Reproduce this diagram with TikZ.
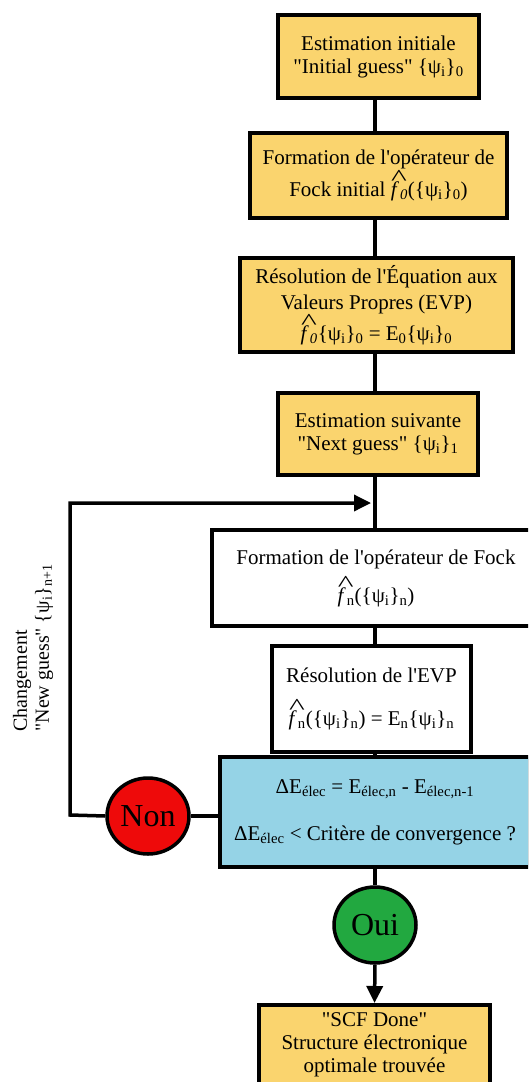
\documentclass[tikz,border=0pt]{standalone}
\usepackage{fontspec}
\setmainfont{Liberation Serif}[Ligatures=TeXOff]
\usetikzlibrary{arrows.meta,shapes.geometric}
\definecolor{boxyellow}{HTML}{FAD46E}
\definecolor{boxblue}{HTML}{95D3E6}
\definecolor{nonred}{HTML}{EE0A0A}
\definecolor{ouigreen}{HTML}{22A840}
\newcommand\lowsub[1]{\textsubscript{#1}}
\newcommand\fhat{\leavevmode\rlap{\raisebox{0.52em}{\kern0.02em\scalebox{1.6}[1.1]{\textasciicircum}}}\textit{f}\kern0.05em}
\begin{document}
\begin{tikzpicture}[x=1pt,y=-1pt,
  stepbox/.style={draw=black,line width=3.5pt,align=center,inner sep=2pt,
     font=\fontsize{21}{23}\selectfont},
  yel/.style={stepbox,fill=boxyellow},
  wht/.style={stepbox,fill=white},
  blu/.style={stepbox,fill=boxblue},
  decision/.style={ellipse,draw=black,line width=3.5pt,inner sep=0pt,
     minimum width=82pt,minimum height=76pt,font=\fontsize{32}{34}\selectfont},
  conn/.style={line width=3.5pt},
  tip/.style={-{Triangle[length=17pt,width=16pt]}}]
\useasboundingbox (0,0) rectangle (528,1082);
\clip (0,0) rectangle (528,1082);
\fill[white] (0,0) rectangle (528,1082);

\node[yel,minimum width=201pt,minimum height=83pt] (b1) at (378.5,56.5)
  {Estimation initiale\\ "Initial guess" \{ψ\lowsub{i}\}\lowsub{0}};
\node[yel,minimum width=257pt,minimum height=85pt,font=\fontsize{21}{29}\selectfont] (b2) at (378.5,175.5)
  {Formation de l'opérateur de\\ Fock initial \fhat\lowsub{\textit{0}}(\{ψ\lowsub{i}\}\lowsub{0})};
\node[yel,minimum width=273pt,minimum height=94pt,font=\fontsize{21}{26}\selectfont] (b3) at (376.5,305)
  {Résolution de l'Équation aux\\ Valeurs Propres (EVP)\\ \fhat\lowsub{\textit{0}}\{ψ\lowsub{i}\}\lowsub{0} = E\lowsub{0}\{ψ\lowsub{i}\}\lowsub{0}};
\node[yel,minimum width=200pt,minimum height=82pt] (b4) at (378,434)
  {Estimation suivante\\ "Next guess" \{ψ\lowsub{i}\}\lowsub{1}};
\node[wht,minimum width=328pt,minimum height=96pt,font=\fontsize{21}{38}\selectfont] (b5) at (376,578)
  {Formation de l'opérateur de Fock\\ \fhat\lowsub{n}(\{ψ\lowsub{i}\}\lowsub{n})};
\node[wht,minimum width=199pt,minimum height=106pt,font=\fontsize{21}{43}\selectfont] (b6) at (371.5,699)
  {Résolution de l'EVP\\ \fhat\lowsub{n}(\{ψ\lowsub{i}\}\lowsub{n}) = E\lowsub{n}\{ψ\lowsub{i}\}\lowsub{n}};
\node[blu,minimum width=310pt,minimum height=110pt,font=\fontsize{21}{47}\selectfont] (b7) at (375,812)
  {ΔE\lowsub{élec} = E\lowsub{élec,n} - E\lowsub{élec,n-1}\\ ΔE\lowsub{élec} < Critère de convergence ?};
\node[decision,fill=nonred] (non) at (148,816) {Non};
\node[decision,fill=ouigreen] (oui) at (375,925) {Oui};
\node[yel,minimum width=231pt,anchor=north,inner ysep=8pt,text depth=40pt] (b8) at (374.5,1003)
  {"SCF Done"\\ Structure électronique\\ optimale trouvée};

\node[rotate=90,align=left,font=\fontsize{20}{22}\selectfont] (lab) at (33,648)
  {Changement\\ "New guess" \{ψ\lowsub{i}\}\lowsub{n+1}};

\coordinate (ax) at (375,0);
\coordinate (c1) at (70,815);
\coordinate (c2) at (70,503);
\coordinate (c3) at (371,503);

\draw[conn] (b1.south -| ax) -- (b2.north -| ax);
\draw[conn] (b2.south -| ax) -- (b3.north -| ax);
\draw[conn] (b3.south -| ax) -- (b4.north -| ax);
\draw[conn] (b4.south -| ax) -- (b5.north -| ax);
\draw[conn] (b5.south -| ax) -- (b6.north -| ax);
\draw[conn] (b6.south -| ax) -- (b7.north -| ax);
\draw[conn] (b7.south -| ax) -- (oui.north);
\draw[conn,tip] (oui.south) -- (b8.north);
\draw[conn] (b7.west |- non) -- (non.east);
\draw[conn,tip] (non.west) -- (c1) -- (c2) -- (c3);
\end{tikzpicture}
\end{document}
